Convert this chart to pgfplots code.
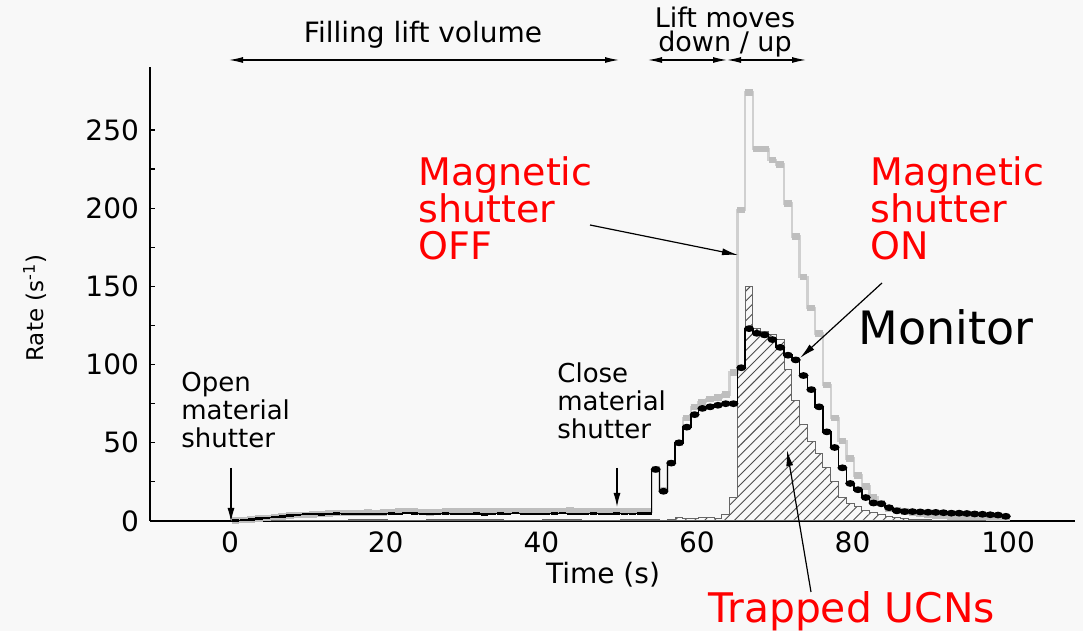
\documentclass[border=0pt]{standalone}
\usepackage{fontspec}
\setmainfont{DejaVu Sans}
\usepackage{pgfplots}
\pgfplotsset{compat=1.18}
\usetikzlibrary{arrows.meta,patterns.meta}
\definecolor{bg}{RGB}{248,248,248}
\definecolor{offthin}{RGB}{208,208,208}
\definecolor{offthick}{RGB}{190,190,190}
\begin{document}
\begin{tikzpicture}[x=0.5pt,y=0.5pt]
\fill[bg] (0,0) rectangle (1083,631);
\useasboundingbox (0,0) rectangle (1083,631);
\begin{axis}[
  at={(75pt,55pt)}, anchor=south west,
  x=3.89pt, y=0.782pt,
  xmin=-10.3, xmax=108.6, ymin=0, ymax=290,
  axis x line=bottom, axis y line=left,
  axis line style={-, line width=1pt, black},
  xtick={0,20,...,100}, ytick={0,50,...,250}, minor y tick num=1,
  x tick style={draw=none},
  y tick style={black, line width=0.6pt},
  tick align=inside, major tick length=2.5pt, minor tick length=2.5pt,
  ticklabel style={font=\fontsize{14}{14}\selectfont},
  yticklabel style={xshift=-2pt},
  xticklabel style={yshift=-2pt},
  /pgf/number format/assume math mode=true,
  clip=false,
]
% Trapped UCNs (hatched)
\addplot[const plot, draw=black!60, line width=0.5pt,
  pattern={Lines[angle=45,distance=3.5pt,line width=0.45pt]}, pattern color=black!70]
coordinates {
(0.2,0.3)(5.2,0.5)(10.2,0.6)(15.2,0.8)(20.2,0.5)(25.2,0.7)(30.2,1)(35.2,0.6)(40.2,0.8)(45.2,0.6)(50.2,0.8)
(55.2,0.5)(56.2,1)(57.2,2)(58.2,1.5)(59.2,1.5)(60.2,2)(61.2,2.5)(62.2,1.5)
(63.2,4)(64.2,15)(65.2,98)(66.2,150)(67.2,123)(68.2,121)(69.2,119)(70.2,116)
(71.2,97)(72.2,77)(73.2,62)(74.2,51)(75.2,43)(76.2,34)(77.2,25)(78.2,15)
(79.2,11.5)(80.2,9)(81.2,7)(82.2,5.5)(83.2,4)(84.2,3)(85.2,2)(86.2,1.5)
(87.2,1)(88.2,0.8)(90.2,0.5)(95.2,0.3)(100.2,0.3)
} \closedcycle;
% Magnetic shutter OFF (grey histogram)
\addplot[const plot, draw=offthin, line width=1.2pt] coordinates {
(0.2,0.3)(1.2,0.6)(2.2,1)(3.2,1.5)(4.2,2)(5.2,2.5)(6.2,3)(7.2,3.5)(8.2,3.8)(9.2,4)
(10.2,4.2)(11.2,4.5)(12.2,4.8)(13.2,5)(14.2,5.2)(15.2,5)(16.2,5.3)(17.2,5.5)(18.2,5.3)(19.2,5.5)
(20.2,5.8)(21.2,6)(22.2,6.5)(23.2,6.2)(24.2,5.8)(25.2,5.5)(26.2,5.8)(27.2,6)(28.2,6.2)(29.2,6)
(30.2,6.3)(31.2,6.5)(32.2,6.2)(33.2,6)(34.2,6.3)(35.2,6.5)(36.2,6.2)(37.2,6)(38.2,6.3)(39.2,6.5)
(40.2,6.5)(41.2,6.2)(42.2,6.5)(43.2,6.8)(44.2,6.5)(45.2,6.2)(46.2,6.5)(47.2,6.3)(48.2,6)(49.2,6.2)
(50.2,6.5)(51.2,6.3)(52.2,6.2)(53.2,6)
(54.2,33)(55.2,20)(56.2,37)(57.2,50)(58.2,66)(59.2,73)(60.2,76)(61.2,78)(62.2,79)(63.2,81)
(64.2,95)(65.2,199)(66.2,274)(67.2,238)(68.2,238)(69.2,231)(70.2,228)(71.2,203)(72.2,182)(73.2,156)
(74.2,136)(75.2,120)(76.2,87)(77.2,66)(78.2,51)(79.2,40)(80.2,29)(81.2,22)(82.2,15)(83.2,11.5)
(84.2,8)(85.2,7)(86.2,6)(87.2,5)(88.2,4.5)(89.2,4)(90.2,3.5)(91.2,3.2)(92.2,3)(93.2,2.8)
(94.2,2.6)(95.2,2.5)(96.2,2.4)(97.2,2.3)(98.2,2.2)(99.2,2)(100.2,2)
};
\addplot[jump mark left, draw=offthick, line width=3.2pt] coordinates {
(0.2,0.3)(1.2,0.6)(2.2,1)(3.2,1.5)(4.2,2)(5.2,2.5)(6.2,3)(7.2,3.5)(8.2,3.8)(9.2,4)
(10.2,4.2)(11.2,4.5)(12.2,4.8)(13.2,5)(14.2,5.2)(15.2,5)(16.2,5.3)(17.2,5.5)(18.2,5.3)(19.2,5.5)
(20.2,5.8)(21.2,6)(22.2,6.5)(23.2,6.2)(24.2,5.8)(25.2,5.5)(26.2,5.8)(27.2,6)(28.2,6.2)(29.2,6)
(30.2,6.3)(31.2,6.5)(32.2,6.2)(33.2,6)(34.2,6.3)(35.2,6.5)(36.2,6.2)(37.2,6)(38.2,6.3)(39.2,6.5)
(40.2,6.5)(41.2,6.2)(42.2,6.5)(43.2,6.8)(44.2,6.5)(45.2,6.2)(46.2,6.5)(47.2,6.3)(48.2,6)(49.2,6.2)
(50.2,6.5)(51.2,6.3)(52.2,6.2)(53.2,6)
(54.2,33)(55.2,20)(56.2,37)(57.2,50)(58.2,66)(59.2,73)(60.2,76)(61.2,78)(62.2,79)(63.2,81)
(64.2,95)(65.2,199)(66.2,274)(67.2,238)(68.2,238)(69.2,231)(70.2,228)(71.2,203)(72.2,182)(73.2,156)
(74.2,136)(75.2,120)(76.2,87)(77.2,66)(78.2,51)(79.2,40)(80.2,29)(81.2,22)(82.2,15)(83.2,11.5)
(84.2,8)(85.2,7)(86.2,6)(87.2,5)(88.2,4.5)(89.2,4)(90.2,3.5)(91.2,3.2)(92.2,3)(93.2,2.8)
(94.2,2.6)(95.2,2.5)(96.2,2.4)(97.2,2.3)(98.2,2.2)(99.2,2)(100.2,2)
};
% Magnetic shutter ON (black dots): filling phase, small dashes
\addplot[const plot mark mid, black, line width=0.5pt, mark=-, mark size=1.8pt,
  mark options={line width=1.2pt, solid}] coordinates {
(0.7,0.2)(1.7,0.5)(2.7,1)(3.7,1.5)(4.7,2)(5.7,2.5)(6.7,3)(7.7,3.5)(8.7,4)(9.7,4.3)
(10.7,4.5)(11.7,4.2)(12.7,4.5)(13.7,4.8)(14.7,4.5)(15.7,4.3)(16.7,4.5)(17.7,4.6)(18.7,4.4)(19.7,4.5)
(20.7,4.8)(21.7,4.6)(22.7,5.2)(23.7,4.8)(24.7,4.5)(25.7,4.3)(26.7,4.5)(27.7,4.7)(28.7,4.5)(29.7,4.4)
(30.7,4.6)(31.7,4.8)(32.7,4.2)(33.7,4.5)(34.7,4.7)(35.7,4.5)(36.7,5)(37.7,4.6)(38.7,4.4)(39.7,4.5)
(40.7,4.6)(41.7,4.8)(42.7,5)(43.7,4.5)(44.7,4.4)(45.7,4.6)(46.7,4.8)(47.7,4.5)(48.7,4.6)(49.7,4.7)
(50.7,4.5)(51.7,4.6)(52.7,4.8)(53.7,4.7)(54.7,33)
};
% Magnetic shutter ON: lift phase, dots
\addplot[const plot mark mid, black, line width=0.8pt, mark=*, mark size=1.5pt,
  mark options={xscale=1.35, yscale=0.85, solid}] coordinates {
(54.7,33)(55.7,19)(56.7,37)(57.7,50)(58.7,60)(59.7,68)(60.7,72)(61.7,73)(62.7,74)(63.7,75)
(64.7,75)(65.7,98)(66.7,123)(67.7,120)(68.7,119)(69.7,116)(70.7,111)(71.7,106)(72.7,103)(73.7,93)
(74.7,84)(75.7,73)(76.7,57)(77.7,47)(78.7,34)(79.7,24)(80.7,20)(81.7,15)(82.7,11.5)(83.7,11)
(84.7,8.5)(85.7,6.5)(86.7,6)(87.7,6)(88.7,5.8)(89.7,5.6)(90.7,5.5)(91.7,5.3)(92.7,5)(93.7,5)
(94.7,4.8)(95.7,4.5)(96.7,4.3)(97.7,4)(98.7,3.8)(99.7,3)
};
\end{axis}
% axis labels
\node[rotate=90, font=\fontsize{11.5}{12}\selectfont] at (35,323) {Rate (s\textsuperscript{-1})};
\node[font=\fontsize{14}{14}\selectfont] at (603,56) {Time (s)};
% top annotations
\node[font=\fontsize{14}{14}\selectfont] at (423,596) {Filling lift volume};
\draw[{Latex[length=7pt,width=3pt]}-{Latex[length=7pt,width=3pt]}, line width=0.6pt] (229,571) -- (619,571);
\node[font=\fontsize{13.5}{14}\selectfont] at (725,614) {Lift moves};
\node[font=\fontsize{13.5}{14}\selectfont] at (725,587) {down / up};
\draw[{Latex[length=7pt,width=3pt]}-{Latex[length=7pt,width=3pt]}, line width=0.6pt] (648,571) -- (727,571);
\draw[{Latex[length=7pt,width=3pt]}-{Latex[length=7pt,width=3pt]}, line width=0.6pt] (727,571) -- (806,571);
% shutter labels
\node[anchor=north west, align=left, inner sep=0pt, font=\fontsize{13}{14}\selectfont] at (181,259) {Open\\material\\shutter};
\draw[-{Latex[length=7pt,width=3.5pt]}, line width=0.6pt] (231,163) -- (231,109);
\node[anchor=north west, align=left, inner sep=0pt, font=\fontsize{13}{14}\selectfont] at (557,269) {Close\\material\\shutter};
\draw[-{Latex[length=7pt,width=3.5pt]}, line width=0.6pt] (617,163) -- (617,124);
% magnetic shutter
\node[anchor=base west, align=left, inner sep=0pt, text=red, font=\fontsize{19}{18.7}\selectfont] at (418,371) {Magnetic\\shutter\\OFF};
\node[anchor=base west, align=left, inner sep=0pt, text=red, font=\fontsize{19}{18.7}\selectfont] at (870,371) {Magnetic\\shutter\\ON};
\draw[-{Latex[length=8pt,width=3.5pt]}, line width=0.6pt] (590,406) -- (738,376);
\draw[-{Latex[length=8pt,width=3.5pt]}, line width=0.6pt] (882,348) -- (800,273);
\node[anchor=base west, inner sep=0pt, font=\fontsize{23}{23}\selectfont] at (858,286) {Monitor};
\node[anchor=base west, inner sep=0pt, text=red, font=\fontsize{20.4}{21}\selectfont] at (708,8) {Trapped UCNs};
\draw[-{Latex[length=8pt,width=3.5pt]}, line width=0.6pt] (811,39) -- (787,181);
\end{tikzpicture}
\end{document}
